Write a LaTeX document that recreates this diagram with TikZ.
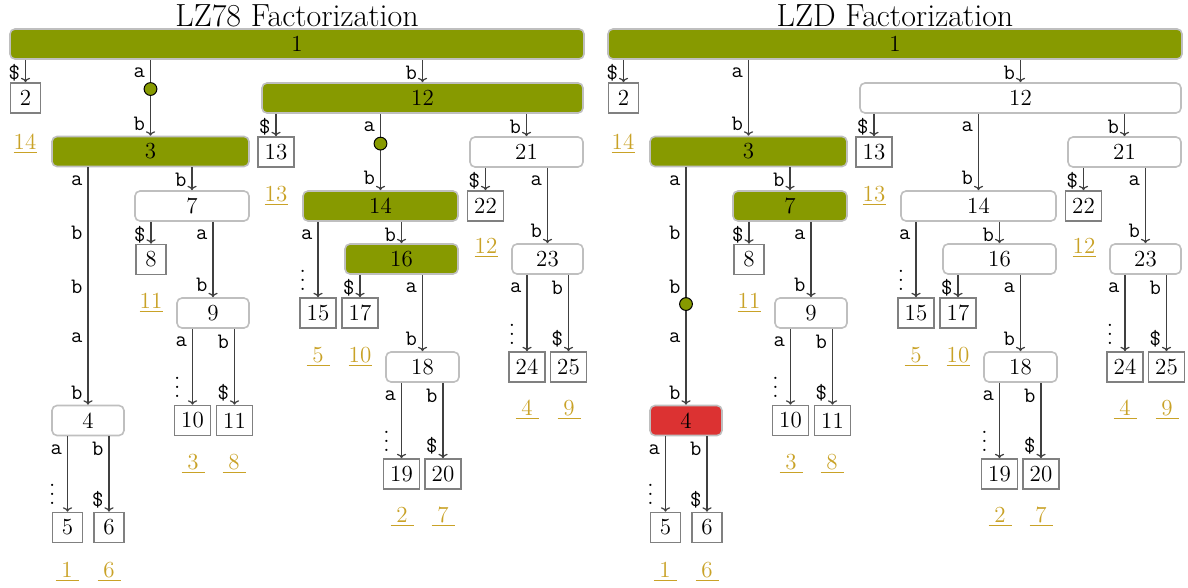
\documentclass[tikz,border=0pt]{standalone}
\usetikzlibrary{arrows.meta}
\definecolor{olivec}{HTML}{879A00}
\definecolor{goldc}{HTML}{C9A227}
\definecolor{redc}{HTML}{DC3232}
\newcommand\gnum[1]{\underline{\makebox[1em]{#1}}}
% three stacked dots, as in an elided run of letters
\newcommand\vdts{\vbox{\baselineskip=4.5pt\lineskiplimit=-10pt\hbox{.}\hbox{.}\hbox{.}}}

\tikzset{
  every node/.style={font=\fontsize{11.5}{13}\selectfont},
  tn/.style={rectangle, rounded corners=2.5pt, draw=black!25, line width=0.8pt,
    minimum height=15pt, inner sep=0pt, fill=white},
  lf/.style={rectangle, draw=black!50, line width=0.8pt, minimum width=15pt,
    minimum height=15pt, inner xsep=3.4pt, inner ysep=0pt, fill=white},
  arr/.style={draw=black!75, line width=0.6pt, -{To[length=2.2pt,width=4.6pt]}},
  lb/.style={font=\fontsize{11}{13}\selectfont\ttfamily, inner sep=0pt, anchor=east, xshift=-2.5pt},
  lt/.style={lb, pos=0, yshift=-6.5pt},
  le/.style={lb, pos=1, yshift=6pt},
  ld/.style={lb, pos=1, anchor=east, xshift=-3.2pt, yshift=8.5pt,
    font=\fontsize{11.5}{13}\selectfont},
  jdot/.style={circle, draw=black, line width=0.5pt, fill=olivec, minimum size=6.4pt, inner sep=0pt},
  gn/.style={text=goldc, inner sep=0pt},
  ttl/.style={font=\fontsize{16}{19}\selectfont},
  hl/.style={fill=olivec},
  s1/.style={}, s3/.style={}, s4/.style={}, s7/.style={},
  s12/.style={}, s14/.style={}, s16/.style={},
}

% one suffix trie with its leaves and the leaf numbers below them
\newcommand\trie{%
  \node[tn,s1,minimum width=287pt] (n1) at (297,44) {1};
  \node[lf] (b2) at (25.5,98) {2};
  \node[tn,s12,minimum width=160.5pt] (n12) at (422.5,98) {12};
  \node[tn,s3,minimum width=98.5pt] (n3) at (150.5,151.5) {3};
  \node[lf] (b13) at (276,152) {13};
  \node[tn,minimum width=56.5pt] (n21) at (526.5,152) {21};
  \node[tn,s7,minimum width=57pt] (n7) at (192,206) {7};
  \node[tn,s14,minimum width=77.5pt] (n14) at (380.5,206) {14};
  \node[lf] (b22) at (485.5,206) {22};
  \node[lf] (b8) at (151,259.5) {8};
  \node[tn,s16,minimum width=56.5pt] (n16) at (401.5,259) {16};
  \node[tn,minimum width=35.5pt] (n23) at (547.5,259) {23};
  \node[tn,minimum width=36pt] (n9) at (213,313) {9};
  \node[lf] (b15) at (318,313) {15};
  \node[lf] (b17) at (360,313) {17};
  \node[tn,minimum width=36.5pt] (n18) at (422.5,367) {18};
  \node[lf] (b24) at (527,367) {24};
  \node[lf] (b25) at (568.5,367) {25};
  \node[tn,s4,minimum width=36pt] (n4) at (88,420.5) {4};
  \node[lf] (b10) at (192.5,420.5) {10};
  \node[lf] (b11) at (234.5,420.5) {11};
  \node[lf] (b19) at (401.5,474) {19};
  \node[lf] (b20) at (443,474) {20};
  \node[lf] (b5) at (67.5,527.5) {5};
  \node[lf] (b6) at (109,527.5) {6};
  %
  \draw[arr] (n1.south -| b2.north) -- node[lt]{\$} (b2.north);
  \draw[arr] (n1.south -| n3.north) -- node[lt]{a} node[le]{b} (n3.north);
  \draw[arr] (n1.south -| n12.north) -- node[lt]{b} (n12.north);
  \draw[arr] (n12.south -| b13.north) -- node[lt]{\$} (b13.north);
  \draw[arr] (n12.south -| n14.north) -- node[lt]{a} node[le]{b} (n14.north);
  \draw[arr] (n12.south -| n21.north) -- node[lt]{b} (n21.north);
  \draw[arr] (n3.south -| n4.north) -- node[lt]{a} node[lb,pos=.277]{b}
    node[lb,pos=.504]{b} node[lb,pos=.718]{a} node[le]{b} (n4.north);
  \draw[arr] (n3.south -| n7.north) -- node[lt]{b} (n7.north);
  \draw[arr] (n7.south -| b8.north) -- node[lt]{\$} (b8.north);
  \draw[arr] (n7.south -| n9.north) -- node[lt]{a} node[le]{b} (n9.north);
  \draw[arr] (n9.south -| b10.north) -- node[lt]{a} node[ld]{\vdts} (b10.north);
  \draw[arr] (n9.south -| b11.north) -- node[lt]{b} node[le]{\$} (b11.north);
  \draw[arr] (n4.south -| b5.north) -- node[lt]{a} node[ld]{\vdts} (b5.north);
  \draw[arr] (n4.south -| b6.north) -- node[lt]{b} node[le]{\$} (b6.north);
  \draw[arr] (n14.south -| b15.north) -- node[lt]{a} node[ld]{\vdts} (b15.north);
  \draw[arr] (n14.south -| n16.north) -- node[lt]{b} (n16.north);
  \draw[arr] (n16.south -| b17.north) -- node[lt]{\$} (b17.north);
  \draw[arr] (n16.south -| n18.north) -- node[lt]{a} node[le]{b} (n18.north);
  \draw[arr] (n18.south -| b19.north) -- node[lt]{a} node[ld]{\vdts} (b19.north);
  \draw[arr] (n18.south -| b20.north) -- node[lt]{b} node[le]{\$} (b20.north);
  \draw[arr] (n21.south -| b22.north) -- node[lt]{\$} (b22.north);
  \draw[arr] (n21.south -| n23.north) -- node[lt]{a} node[le]{b} (n23.north);
  \draw[arr] (n23.south -| b24.north) -- node[lt]{a} node[ld]{\vdts} (b24.north);
  \draw[arr] (n23.south -| b25.north) -- node[lt]{b} node[le]{\$} (b25.north);
  %
  \node[gn] (g14) at (25,144) {\gnum{14}};
  \node[gn] (g13) at (276,196) {\gnum{13}};
  \node[gn] (g11) at (151,303) {\gnum{11}};
  \node[gn] (g12) at (486,248) {\gnum{12}};
  \node[gn] (g3) at (193,464) {\gnum{3}};
  \node[gn] (g8) at (234,464) {\gnum{8}};
  \node[gn] (g5) at (318,357) {\gnum{5}};
  \node[gn] (g10) at (360,357) {\gnum{10}};
  \node[gn] (g4) at (527,410) {\gnum{4}};
  \node[gn] (g9) at (569,410) {\gnum{9}};
  \node[gn] (g2) at (402,517) {\gnum{2}};
  \node[gn] (g7) at (443,517) {\gnum{7}};
  \node[gn] (g1) at (67,572) {\gnum{1}};
  \node[gn] (g6) at (109,572) {\gnum{6}};
}

\begin{document}
\begin{tikzpicture}[x=0.5pt,y=-0.5pt]
  \useasboundingbox (0,0) rectangle (1188,588);

  % LZ78
  \begin{scope}[name prefix=L-, s1/.style={hl}, s3/.style={hl},
      s12/.style={hl}, s14/.style={hl}, s16/.style={hl}]
    \node[ttl] (title) at (297,16) {LZ78 Factorization};
    \trie
    \path (n1.south -| n3.north) -- node[jdot,pos=.385]{} (n3.north);
    \path (n12.south -| n14.north) -- node[jdot,pos=.39]{} (n14.north);
  \end{scope}

  % LZD
  \begin{scope}[shift={(598,0)}, name prefix=R-, s1/.style={hl}, s3/.style={hl},
      s7/.style={hl}, s4/.style={fill=redc}]
    \node[ttl] (title) at (297,16) {LZD Factorization};
    \trie
    \path (n3.south -| n4.north) -- node[jdot,pos=.576]{} (n4.north);
  \end{scope}
\end{tikzpicture}
\end{document}
